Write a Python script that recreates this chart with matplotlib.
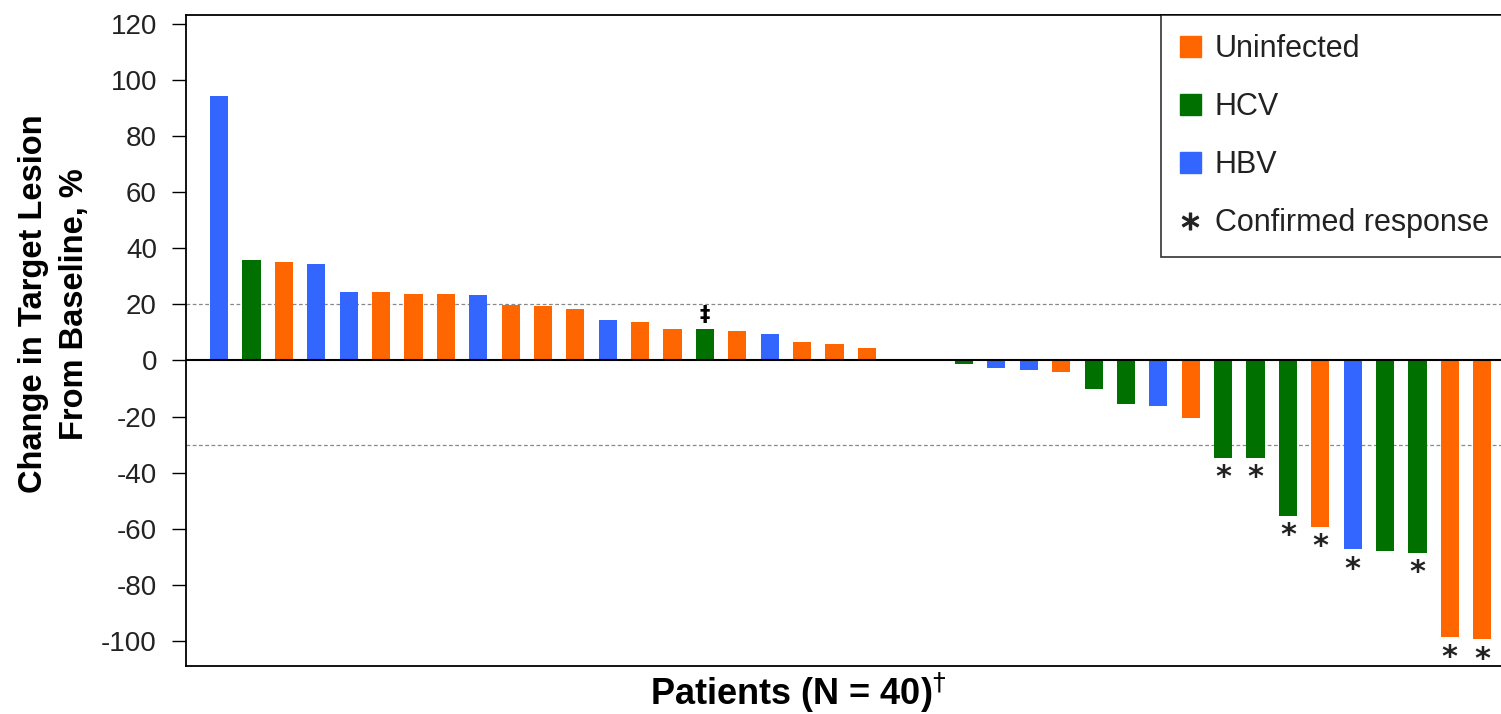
import matplotlib
matplotlib.use("Agg")
import matplotlib.pyplot as plt
from matplotlib.lines import Line2D
from matplotlib.patches import Patch

plt.rcParams["axes.unicode_minus"] = False

# change from baseline (%) per patient, sorted as in the waterfall plot
changes = [94.4, 35.8, 35.0, 34.4, 24.5, 24.5, 23.8, 23.8, 23.2, 19.8,
           19.5, 18.5, 14.5, 13.8, 11.2, 11.2, 10.6, 9.3, 6.6, 6.0,
           4.6, 0.0, 0.0, -1.2, -2.6, -3.3, -4.0, -10.0, -15.4, -16.4,
           -20.4, -34.6, -34.6, -55.3, -59.3, -67.2, -67.8, -68.5, -98.7, -99.3]
groups = ["HBV", "HCV", "Uninfected", "HBV", "HBV", "Uninfected", "Uninfected", "Uninfected", "HBV", "Uninfected",
          "Uninfected", "Uninfected", "HBV", "Uninfected", "Uninfected", "HCV", "Uninfected", "HBV", "Uninfected", "Uninfected",
          "Uninfected", "Uninfected", "Uninfected", "HCV", "HBV", "HBV", "Uninfected", "HCV", "HCV", "HBV",
          "Uninfected", "HCV", "HCV", "HCV", "Uninfected", "HBV", "HCV", "HCV", "Uninfected", "Uninfected"]
confirmed = [32, 33, 34, 35, 36, 38, 39, 40]   # patient numbers (1-based)
dagger_patient = 16
thresholds = [20, -30]

colors = {"Uninfected": "#FF6600", "HCV": "#007000", "HBV": "#3366FF"}

fig = plt.figure(figsize=(15.01, 7.14), dpi=100)
ax = fig.add_axes([0.124, 0.067, 0.876, 0.912])

x = list(range(len(changes)))
ax.bar(x, changes, width=0.56, color=[colors[g] for g in groups], zorder=2)

for t in thresholds:
    ax.axhline(t, color="#888888", linestyle=(0, (3, 2)), linewidth=0.9, zorder=1)
ax.axhline(0, color="black", linewidth=1.5, zorder=3)

for p in confirmed:
    ax.text(p - 1, changes[p - 1] - 2.0, "*", ha="center", va="top",
            fontsize=22, fontweight="bold", color="#222222", family="DejaVu Sans")
ax.text(dagger_patient - 1, changes[dagger_patient - 1] + 1.5, "\u2021", ha="center",
        va="bottom", fontsize=15, color="black", fontweight="bold")

ax.set_xlim(-1.02, 39.58)
ax.set_ylim(-109, 123.2)
ax.set_yticks(range(-100, 121, 20))
ax.set_xticks([])
ax.tick_params(axis="y", direction="out", length=10, width=1, labelsize=20,
               labelcolor="#222222", pad=11)
for lab in ax.get_yticklabels():
    lab.set_family("Liberation Sans")
ax.spines["right"].set_visible(False)
for s in ["left", "top", "bottom"]:
    ax.spines[s].set_linewidth(1.3)

fig.text(54 / 1501, 1 - 304 / 714, "Change in Target Lesion\nFrom Baseline, %",
         rotation=90, ha="center", va="center", multialignment="center",
         fontsize=23.5, fontweight="bold", family="Liberation Sans", linespacing=1.4)
fig.text(798 / 1501, 1 - 693 / 714, "Patients (N = 40)$^{\u2020}$", ha="center",
         va="center", fontsize=26, fontweight="bold", family="Liberation Sans")

handles = [Patch(color=colors["Uninfected"]), Patch(color=colors["HCV"]),
           Patch(color=colors["HBV"]),
           Line2D([], [], linestyle="none", marker="$*$", color="#222222", markersize=12)]
labels = ["Uninfected", "HCV", "HBV", "Confirmed response"]
leg = ax.legend(handles, labels, loc="upper right", bbox_to_anchor=(1.005, 1.0),
                fontsize=22, frameon=True, fancybox=False, edgecolor="black",
                handlelength=0.69, handleheight=0.69, handletextpad=0.45,
                labelspacing=0.92, borderpad=0.62, borderaxespad=0)
leg.get_frame().set_linewidth(1.2)
for t in leg.get_texts():
    t.set_family("Liberation Sans")
    t.set_color("#222222")

fig.savefig("out.png", dpi=100)
